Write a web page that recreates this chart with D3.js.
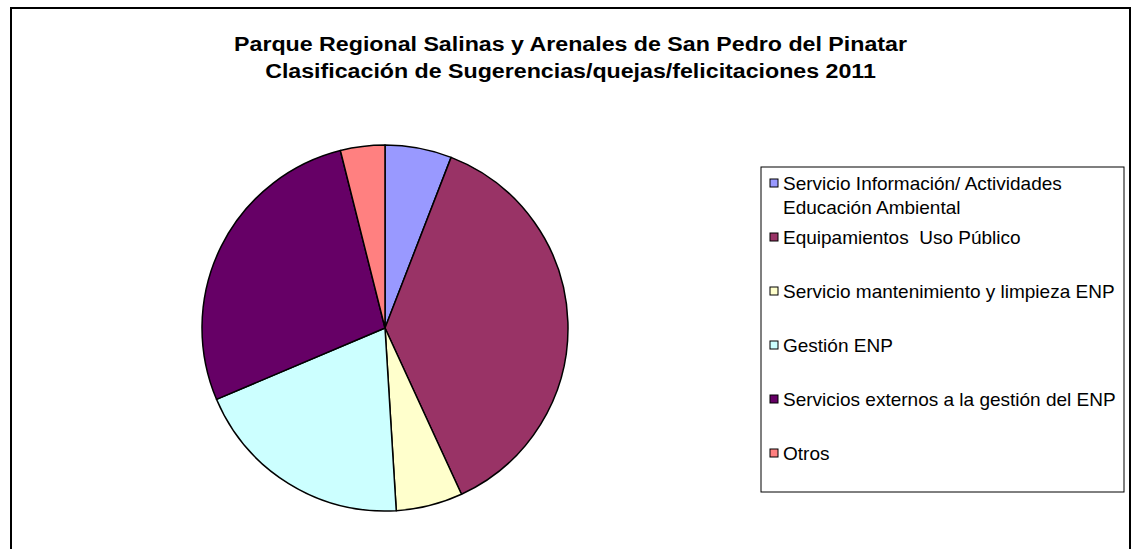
<!DOCTYPE html>
<html>
<head>
<meta charset="utf-8">
<script src="https://cdn.jsdelivr.net/npm/d3@7"></script>
<style>
  body { margin: 0; background: #fff; }
  text { font-family: "Liberation Sans", Arial, sans-serif; white-space: pre; }
</style>
</head>
<body>
<div id="chart"></div>
<script>
const categories = [
  ["Servicio Información/ Actividades", "Educación Ambiental"],
  ["Equipamientos  Uso Público"],
  ["Servicio mantenimiento y limpieza ENP"],
  ["Gestión ENP"],
  ["Servicios externos a la gestión del ENP"],
  ["Otros"]
];
const values = [3, 19, 3, 10, 14, 2];
const colors = ["#9999FF", "#993366", "#FFFFCC", "#CCFFFF", "#660066", "#FF8080"];
const titleLines = [
  "Parque Regional Salinas y Arenales de San Pedro del Pinatar",
  "Clasificación de Sugerencias/quejas/felicitaciones 2011"
];

const width = 1135, height = 549;
const svg = d3.select("#chart").append("svg")
  .attr("width", width)
  .attr("height", height);

// chart area border
svg.append("rect")
  .attr("x", 11).attr("y", 8)
  .attr("width", 1119).attr("height", 560)
  .attr("fill", "#fff")
  .attr("stroke", "#000")
  .attr("stroke-width", 2);

// title (the original is drawn a bit wider than normal Arial)
svg.append("g")
  .attr("transform", "translate(570.5,0) scale(1.16,1)")
  .selectAll("text")
  .data(titleLines)
  .enter().append("text")
  .attr("x", 0)
  .attr("y", (d, i) => 51 + i * 27)
  .attr("text-anchor", "middle")
  .attr("font-weight", "bold")
  .attr("font-size", "20px")
  .text(d => d);

// pie
const cx = 385, cy = 328, radius = 183;
const pie = d3.pie().sort(null).value(d => d);
const arc = d3.arc().innerRadius(0).outerRadius(radius);

svg.append("g")
  .attr("transform", `translate(${cx},${cy})`)
  .selectAll("path")
  .data(pie(values))
  .enter().append("path")
  .attr("d", arc)
  .attr("fill", (d, i) => colors[i])
  .attr("stroke", "#000")
  .attr("stroke-width", 1.5)
  .attr("stroke-linejoin", "round");

// legend
const legend = svg.append("g");
legend.append("rect")
  .attr("x", 761).attr("y", 167)
  .attr("width", 363).attr("height", 325)
  .attr("fill", "#fff")
  .attr("stroke", "#000")
  .attr("stroke-width", 1);

const ly = d3.scaleLinear().domain([0, 5]).range([183, 453]);

const items = legend.selectAll("g.item")
  .data(categories)
  .enter().append("g")
  .attr("class", "item")
  .attr("transform", (d, i) => `translate(770,${ly(i)})`);

items.append("rect")
  .attr("x", 0).attr("y", -4)
  .attr("width", 8).attr("height", 8)
  .attr("fill", (d, i) => colors[i])
  .attr("stroke", "#000")
  .attr("stroke-width", 1);

items.append("text")
  .attr("x", 13)
  .attr("font-size", "19px")
  .selectAll("tspan")
  .data(d => d)
  .enter().append("tspan")
  .attr("x", 13)
  .attr("y", (d, i) => 7 + i * 23.5)
  .text(d => d);
</script>
</body>
</html>
